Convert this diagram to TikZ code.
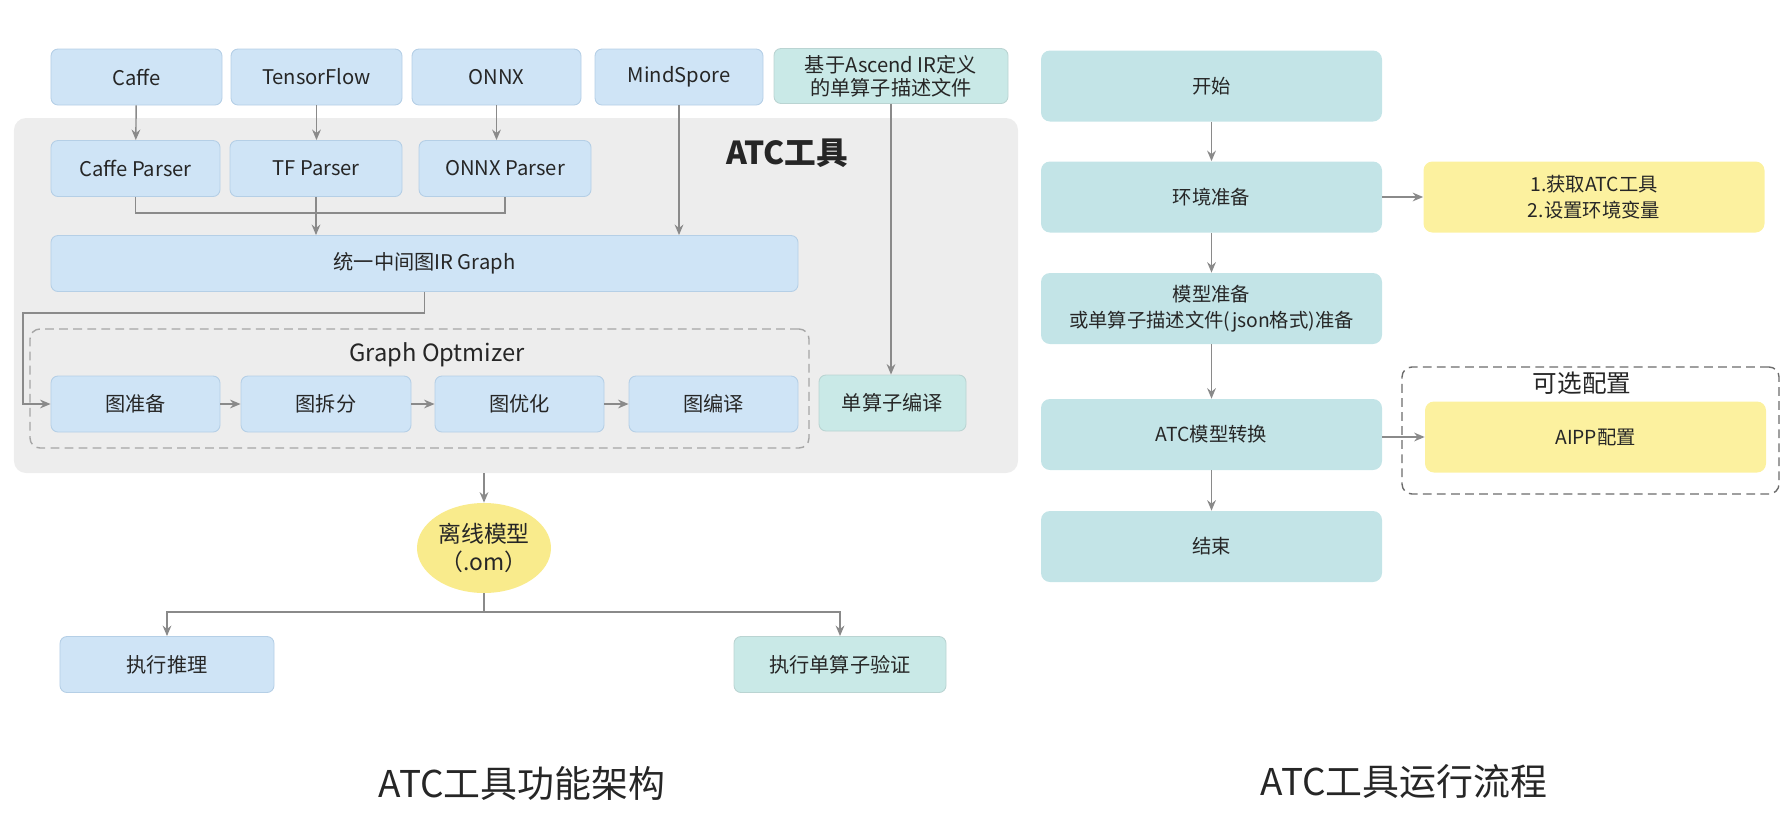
\documentclass[tikz,border=0pt]{standalone}
\usepackage{fontspec}
\setmainfont{Noto Sans CJK SC}
\usepackage{tikz}
\usetikzlibrary{arrows.meta, shapes.geometric, positioning, calc}
\definecolor{boxblue}{HTML}{CFE4F6}
\definecolor{lineblue}{HTML}{B5CFE6}
\definecolor{boxteal}{HTML}{C9E9E7}
\definecolor{flowteal}{HTML}{C3E4E7}
\definecolor{tipyellow}{HTML}{FCF19F}
\definecolor{omyellow}{HTML}{F9EB8C}
\definecolor{bggray}{HTML}{EDEDED}
\definecolor{arrowgray}{HTML}{8A8A8A}

\begin{document}
\begin{tikzpicture}[x=0.2mm, y=-0.2mm, >={Stealth[length=6pt,width=5pt,inset=2pt]},
    every node/.style={font=\fontsize{11.5}{14}\selectfont, text=black!85},
    bluebox/.style={rectangle, draw=lineblue, fill=boxblue, line width=0.5pt,
                    minimum height=11.2mm, rounded corners=1.4mm, align=center},
    tealbox/.style={bluebox, draw=boxteal!80!gray, fill=boxteal},
    flowbox/.style={rectangle, fill=flowteal, minimum width=68.2mm,
                    minimum height=14.2mm, rounded corners=1.8mm, align=center,
                    font=\fontsize{11}{15}\selectfont},
    tipbox/.style={flowbox, fill=tipyellow},
    groupbox/.style={rectangle, draw=gray!70, dashed, line width=0.8pt,
                     rounded corners=2mm, dash pattern=on 5pt off 3pt},
    arrow/.style={->, line width=0.8pt, arrowgray},
    line/.style={line width=0.8pt, arrowgray}]

    \useasboundingbox (0,0) rectangle (1788,822);

    % ATC tool background
    \node[rectangle, fill=bggray, rounded corners=2.4mm, minimum width=200.8mm,
          minimum height=71mm] (atc) at (516,295.5) {};
    \node[font=\fontsize{18}{20}\selectfont\bfseries] (atclabel) at (787,153) {ATC工具};

    % Input formats
    \node[bluebox, minimum width=34.2mm] (caffe) at (136.5,77) {Caffe};
    \node[bluebox, minimum width=34.2mm] (tf) at (316.5,77) {TensorFlow};
    \node[bluebox, minimum width=33.8mm] (onnx) at (496.5,77) {ONNX};
    \node[bluebox, minimum width=33.6mm] (ms) at (679,77) {MindSpore};
    \node[tealbox, minimum width=46.8mm, minimum height=11mm,
          font=\fontsize{11.5}{13}\selectfont] (ascend) at (891,76)
          {基于Ascend IR定义\\的单算子描述文件};

    % Parsers
    \node[bluebox, minimum width=33.8mm] (caffep) at (135.5,168.5) {Caffe Parser};
    \node[bluebox, minimum width=34.4mm] (tfp) at (316,168.5) {TF Parser};
    \node[bluebox, minimum width=34.4mm] (onnxp) at (505,168.5) {ONNX Parser};
    \node[bluebox, minimum width=149.4mm] (irgraph) at (424.5,263.5) {统一中间图IR Graph};

    % Graph optimizer
    \node[groupbox, minimum width=155.8mm, minimum height=23.8mm] (gopt) at (419.5,388.5) {};
    \node[font=\fontsize{13.5}{15}\selectfont] (goptlabel) at (437,355) {Graph Optmizer};
    \node[bluebox, minimum width=33.8mm] (prep) at (135.5,404) {图准备};
    \node[bluebox, minimum width=34mm] (split) at (326,404) {图拆分};
    \node[bluebox, minimum width=33.8mm] (opt) at (519.5,404) {图优化};
    \node[bluebox, minimum width=33.8mm] (compile) at (713.5,404) {图编译};
    \node[tealbox, minimum width=29.4mm] (opcomp) at (892.5,403) {单算子编译};

    % Output
    \node[ellipse, fill=omyellow, minimum width=26.8mm, minimum height=18mm,
          inner sep=0pt, align=center, font=\fontsize{13}{16}\selectfont] (om) at (484,548)
          {离线模型\\（.om）};
    \node[bluebox, minimum width=42.8mm] (infer) at (167,664.5) {执行推理};
    \node[tealbox, minimum width=42.4mm] (verify) at (840,664.5) {执行单算子验证};

    \coordinate (merge) at (0,213);
    \coordinate (bend) at (23,313);
    \coordinate (fork) at (0,612);

    % Arrows
    \draw[arrow] (caffe) -- (caffep);
    \draw[arrow] (tf) -- (tf |- tfp.north);
    \draw[arrow] (onnx.south) -- (onnx.south |- onnxp.north);
    \draw[line] (caffep.south) -- (caffep.south |- merge) -- (onnxp.south |- merge) -- (onnxp.south);
    \draw[arrow] (tfp.south) -- (tfp.south |- irgraph.north);
    \draw[arrow] (ms.south) -- (ms.south |- irgraph.north);
    \draw[arrow] (ascend.south) -- (ascend.south |- opcomp.north);
    \draw[arrow] (irgraph.south) |- (bend) |- (prep.west);
    \draw[arrow] (prep) -- (split);
    \draw[arrow] (split) -- (opt);
    \draw[arrow] (opt) -- (compile);
    \draw[arrow] (atc.south -| om.north) -- (om.north);
    \draw[arrow] (om.south) |- (infer.north |- fork) -- (infer.north);
    \draw[arrow] (om.south) |- (verify.north |- fork) -- (verify.north);

    \node[font=\fontsize{21}{24}\selectfont] (title1) at (522,783) {ATC工具功能架构};

    % Run flow
    \node[flowbox] (start) at (1211.5,86) {开始};
    \node[flowbox] (env) at (1211.5,197) {环境准备};
    \node[flowbox] (model) at (1211.5,308.5) {模型准备\\或单算子描述文件(json格式)准备};
    \node[flowbox] (convert) at (1211.5,434.5) {ATC模型转换};
    \node[flowbox] (finish) at (1211.5,546.5) {结束};
    \node[tipbox] (envtip) at (1594,197) {1.获取ATC工具\\2.设置环境变量};
    \node[groupbox, draw=gray!85!black, minimum width=75.4mm, minimum height=25.4mm] (optcfg) at (1590.5,430.5) {};
    \node[font=\fontsize{14}{16}\selectfont] (optlabel) at (1582,383) {可选配置};
    \node[tipbox] (aipp) at (1595.5,437) {AIPP配置};

    \draw[arrow] (start) -- (env);
    \draw[arrow] (env) -- (model);
    \draw[arrow] (model) -- (convert);
    \draw[arrow] (convert) -- (finish);
    \draw[arrow] (env) -- (envtip);
    \draw[arrow] (convert.east |- aipp) -- (aipp.west);

    \node[font=\fontsize{21}{24}\selectfont] (title2) at (1404,782) {ATC工具运行流程};

\end{tikzpicture}
\end{document}
